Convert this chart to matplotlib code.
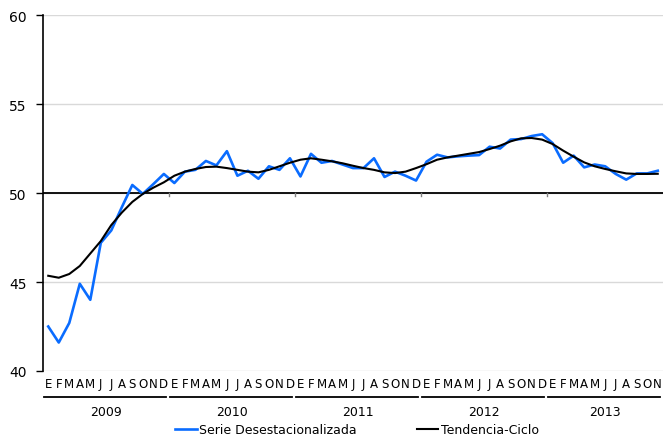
import matplotlib
matplotlib.use("Agg")
import matplotlib.pyplot as plt
import matplotlib.transforms as mtransforms

plt.rcParams['font.family'] = ['DejaVu Sans']

years = ['2009', '2010', '2011', '2012', '2013']
month_letters = ['E', 'F', 'M', 'A', 'M', 'J', 'J', 'A', 'S', 'O', 'N', 'D']
n_months_last_year = 11

serie_desest = [
    42.5, 41.6, 42.7, 44.9, 44.0, 47.2, 47.9, 49.2, 50.45, 49.95, 50.5, 51.07,
    50.56, 51.2, 51.3, 51.8, 51.55, 52.35, 50.97, 51.25, 50.8, 51.5, 51.3, 51.95,
    50.93, 52.2, 51.7, 51.8, 51.6, 51.4, 51.4, 51.95, 50.9, 51.2, 50.97, 50.7,
    51.76, 52.15, 52.0, 52.06, 52.1, 52.13, 52.6, 52.5, 53.0, 53.03, 53.2, 53.3,
    52.8, 51.7, 52.1, 51.44, 51.6, 51.5, 51.07, 50.75, 51.1, 51.1, 51.25,
]
tendencia_ciclo = [
    45.35, 45.24, 45.45, 45.9, 46.6, 47.3, 48.2, 48.9, 49.5, 49.95, 50.3, 50.6,
    50.97, 51.2, 51.35, 51.46, 51.48, 51.4, 51.3, 51.2, 51.16, 51.3, 51.5, 51.7,
    51.87, 51.95, 51.87, 51.78, 51.67, 51.53, 51.4, 51.3, 51.16, 51.12, 51.2, 51.4,
    51.62, 51.87, 52.0, 52.1, 52.2, 52.3, 52.47, 52.66, 52.9, 53.07, 53.09, 53.0,
    52.75, 52.38, 52.04, 51.72, 51.5, 51.35, 51.22, 51.1, 51.07, 51.07, 51.08,
]

yticks = [40, 45, 50, 55, 60]
ref_line = 50

labels = []
for k, y in enumerate(years):
    n = 12 if k < len(years) - 1 else n_months_last_year
    labels += month_letters[:n]
x = list(range(len(labels)))

W, H = 663, 439
fig = plt.figure(figsize=(W / 100, H / 100), dpi=100)
ax = fig.add_axes([43 / W, (H - 372) / H, (663 - 43) / W, 356 / H])

ax.set_ylim(40, 60)
ax.set_xlim(-0.5, len(labels) - 0.5)
ax.set_yticks(yticks)
ax.yaxis.grid(True, color='#d9d9d9', lw=1)
ax.set_axisbelow(True)
for s in ['top', 'right', 'bottom']:
    ax.spines[s].set_visible(False)
ax.spines['left'].set_linewidth(1.2)
ax.tick_params(axis='y', length=5, width=1, pad=7, labelsize=10, colors='black')
ax.set_xticks(x)
ax.set_xticklabels(labels, fontsize=8.5)
ax.tick_params(axis='x', length=0, pad=4)

ax.axhline(ref_line, color='black', lw=1.3, zorder=2)

# year boundary ticks on the reference line
for k in range(1, len(years)):
    b = 12 * k - 0.5
    ax.plot([b, b], [ref_line, ref_line - 0.17], color='#808080', lw=1, zorder=2)

l1, = ax.plot(x, serie_desest, color='#0A6CFF', lw=1.9, zorder=3,
              label='Serie Desestacionalizada')
l2, = ax.plot(x, tendencia_ciclo, color='black', lw=1.5, zorder=4,
              label='Tendencia-Ciclo')

# year groups below
trans = mtransforms.blended_transform_factory(ax.transData, ax.transAxes)
for k, y in enumerate(years):
    start = 12 * k - 0.5
    n = 12 if k < len(years) - 1 else n_months_last_year
    end = start + n
    ax.plot([start + 0.1, end - 0.3], [-0.073, -0.073], color='black', lw=1.3,
             transform=trans, clip_on=False)
    ax.text((start + end) / 2, -0.114, y, transform=trans, ha='center',
            va='center', fontsize=9)

ax.legend(handles=[l1, l2], loc='center', bbox_to_anchor=(357 / W, (H - 431) / H),
          bbox_transform=fig.transFigure, ncol=2, frameon=False, fontsize=9,
          handlelength=1.7, handletextpad=0.2, columnspacing=4.8,
          borderpad=0, borderaxespad=0)

fig.savefig('out.png', dpi=100)
